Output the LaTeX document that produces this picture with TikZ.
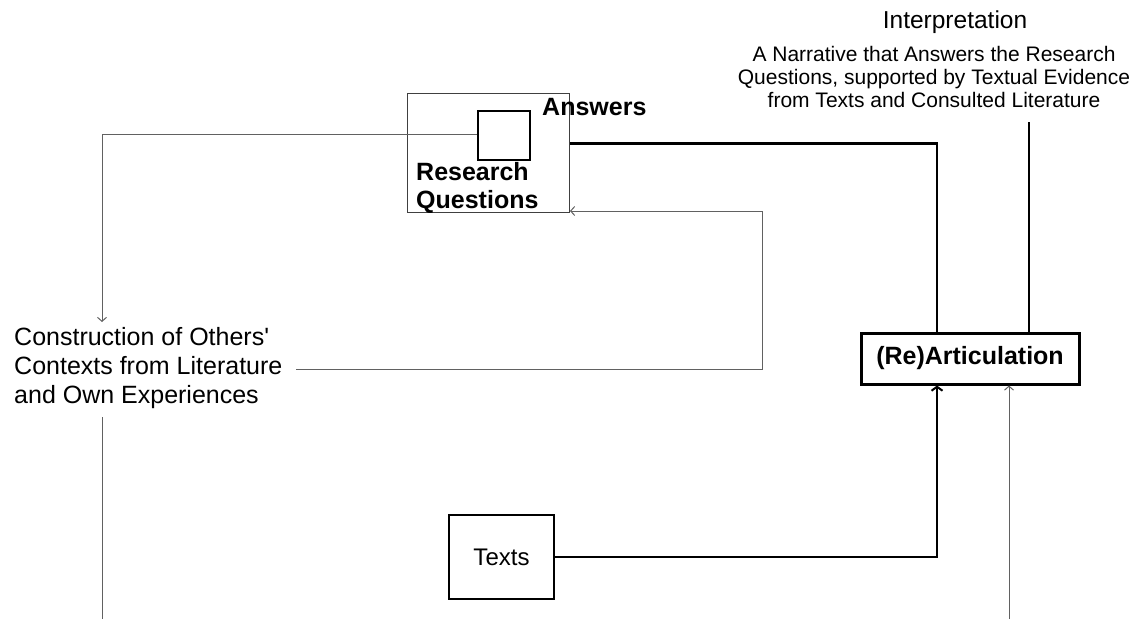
\documentclass[tikz,border=0pt]{standalone}
\usepackage{fontspec}
\setmainfont{Liberation Sans}
\usetikzlibrary{arrows.meta}
\begin{document}
\begin{tikzpicture}[x=1pt,y=-1pt,
  thin line/.style={line width=1pt, draw=black!62},
  thick line/.style={line width=2.5pt, draw=black},
  thin tip/.style={-{Straight Barb[length=4pt,width=9pt]}},
  thick tip/.style={-{Straight Barb[length=4pt,width=11pt,line width=2pt]}},
  big/.style={font=\fontsize{25}{29}\selectfont},
  bigbold/.style={font=\fontsize{25}{28}\selectfont\bfseries},
  small/.style={font=\fontsize{21}{23}\selectfont},
]
\useasboundingbox (0,0) rectangle (1139,619);

% research questions frame with the small answers square
\node[draw=black!75, line width=1pt, minimum width=162pt, minimum height=119pt,
      inner sep=0, anchor=north west] (rq) at (407,93) {};
\node[draw, line width=2pt, minimum width=52pt, minimum height=49pt,
      inner sep=0, anchor=north west] (sq) at (477,110) {};
\node[bigbold, anchor=base west, inner sep=0] (ans) at (542,115) {Answers};
\node[bigbold, anchor=north west, align=left, inner sep=0] (rqtext) at (416,162)
  {Research\\Questions};

% contexts
\node[big, anchor=north west, align=left, inner sep=0] (cons) at (14,327)
  {Construction of Others\textquotesingle\\Contexts from Literature\\and Own Experiences};

% interpretation
\node[font=\fontsize{24.5}{28}\selectfont, anchor=base, inner sep=0] (interp) at (955,28)
  {Interpretation};
\node[small, anchor=north, align=center, inner sep=0] (narr) at (934,46)
  {A Narrative that Answers the Research\\Questions, supported by Textual Evidence\\from Texts and Consulted Literature};

% articulation and texts
\node[bigbold, draw, line width=3pt, minimum width=218pt, minimum height=51pt,
      inner sep=0] (re) at (970,358.5) {(Re)Articulation};
\node[font=\fontsize{24}{28}\selectfont, draw, line width=2pt, minimum width=105pt,
      minimum height=84pt, inner sep=0] (texts) at (501.5,557) {Texts};

% free ends of connectors
\coordinate (consIn) at (102,322);
\coordinate (consOut) at (102,417);
\coordinate (leftEnd) at (102,619);
\coordinate (consR) at (296,369);
\coordinate (loopR) at (762,369);
\coordinate (rightEnd) at (1009,619);
\coordinate (narrEnd) at (1029,122);

% connectors
\draw[thin line, thin tip] ([yshift=1.5pt]sq.west) -| (consIn);
\draw[thin line] (consOut) -- (leftEnd);
\draw[thin line, thin tip] (consR) -- (loopR) |- ([yshift=2pt]rq.south east);
\draw[thick line] ([yshift=9.5pt]rq.east) -| ([xshift=-33pt]re.north);
\draw[thick line] (narrEnd) -- (narrEnd |- re.north);
\draw[thick line, thick tip] (texts.east) -| ([xshift=-33pt]re.south);
\draw[thin line, thin tip] (rightEnd) -- (rightEnd |- re.south);
\end{tikzpicture}
\end{document}
